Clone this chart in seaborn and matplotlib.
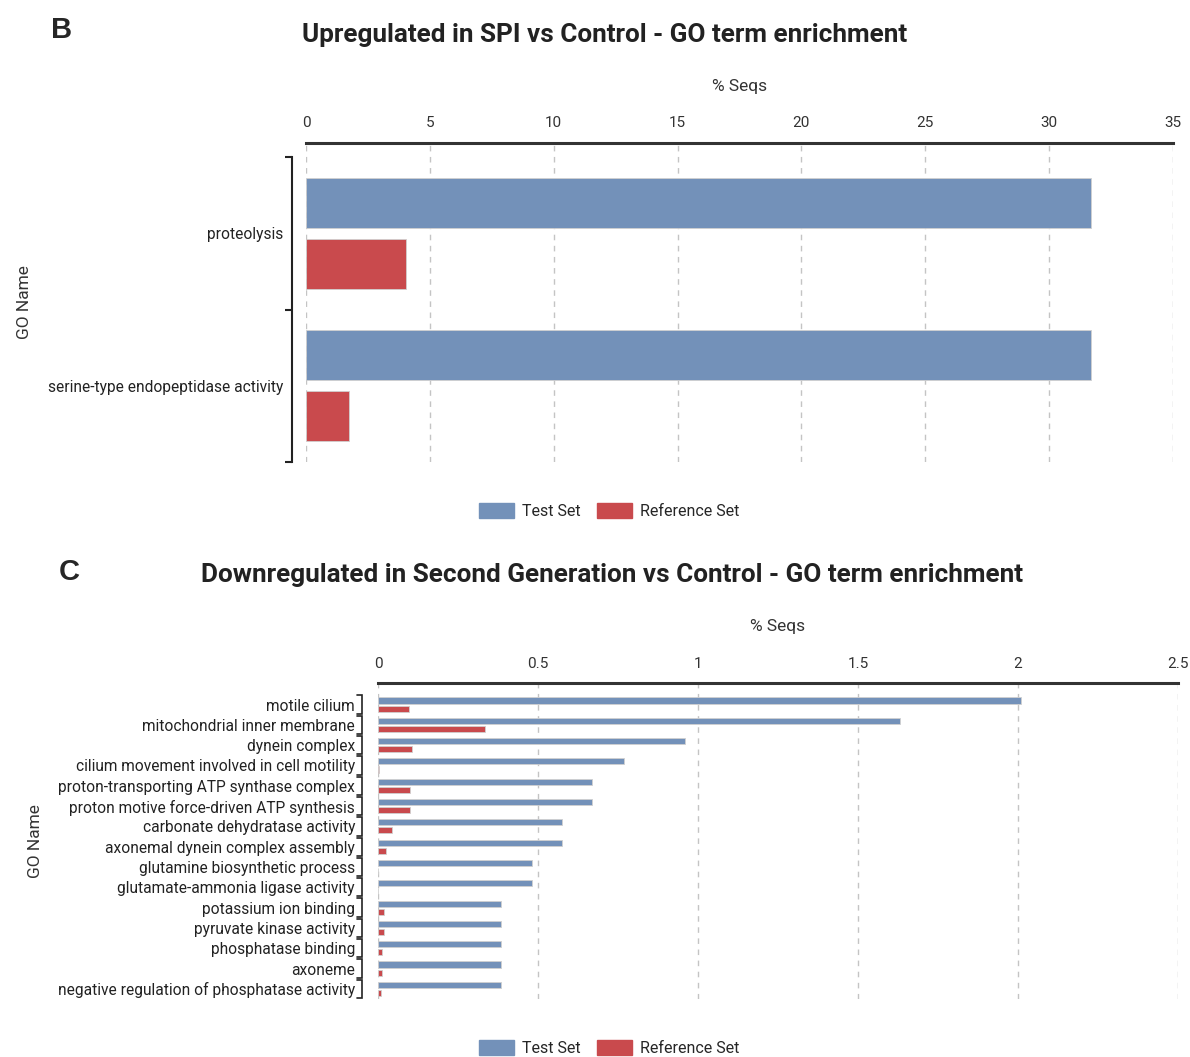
import numpy as np
import pandas as pd
import matplotlib
matplotlib.use("Agg")
import matplotlib.pyplot as plt
import seaborn as sns
from matplotlib.patches import Patch

# Panel B - Upregulated in SPI vs Control
go_b = ["proteolysis", "serine-type endopeptidase activity"]
test_b = [31.7, 31.7]
ref_b = [4.05, 1.75]
xticks_b = [0, 5, 10, 15, 20, 25, 30, 35]

# Panel C - Downregulated in Second Generation vs Control
go_c = [
    "motile cilium",
    "mitochondrial inner membrane",
    "dynein complex",
    "cilium movement involved in cell motility",
    "proton-transporting ATP synthase complex",
    "proton motive force-driven ATP synthesis",
    "carbonate dehydratase activity",
    "axonemal dynein complex assembly",
    "glutamine biosynthetic process",
    "glutamate-ammonia ligase activity",
    "potassium ion binding",
    "pyruvate kinase activity",
    "phosphatase binding",
    "axoneme",
    "negative regulation of phosphatase activity",
]
test_c = [2.01, 1.63, 0.96, 0.77, 0.67, 0.67, 0.575, 0.575, 0.48, 0.48,
          0.385, 0.385, 0.385, 0.385, 0.385]
ref_c = [0.097, 0.334, 0.106, 0.003, 0.1, 0.1, 0.044, 0.025, 0.001, 0.001,
         0.019, 0.019, 0.013, 0.012, 0.009]
xticks_c = [0, 0.5, 1, 1.5, 2, 2.5]

BLUE = "#7391b9"
RED = "#c94a4d"

sns.set_theme(style="white")
plt.rcParams["font.family"] = ["Roboto", "DejaVu Sans"]


def tabela(nazwy, test, ref):
    """Long table for seaborn with hue."""
    return pd.DataFrame({
        "GO Name": nazwy + nazwy,
        "% Seqs": test + ref,
        "Set": ["Test Set"] * len(nazwy) + ["Reference Set"] * len(nazwy),
    })


def rysuj_panel(ax, nazwy, test, ref, ticks, top_lim, gap, offset, ypad):
    df = tabela(nazwy, test, ref)
    sns.barplot(data=df, x="% Seqs", y="GO Name", hue="Set", orient="h",
                palette=[BLUE, RED], saturation=1, width=0.8, gap=gap, ax=ax,
                legend=False, edgecolor="#d0d0d0", linewidth=0.6)
    n = len(nazwy)
    ax.set_xlim(0, ticks[-1])
    ax.set_xticks(ticks)
    ax.set_xticklabels([f"{t:g}" for t in ticks])
    ax.xaxis.tick_top()
    ax.xaxis.set_label_position("top")
    ax.set_xlabel("% Seqs", fontsize=12.5, labelpad=18, color="#333333")
    ax.set_ylabel("GO Name", fontsize=12.5, labelpad=11, color="#333333")
    ax.set_ylim(n - 0.5, top_lim)
    ax.tick_params(axis="x", length=0, pad=9, labelsize=11, labelcolor="#333333")
    ax.tick_params(axis="y", which="major", length=0, pad=ypad, labelsize=11.2,
                   labelcolor="#222222")
    for s in ["right", "bottom"]:
        ax.spines[s].set_visible(False)
    ax.spines["top"].set_linewidth(2.2)
    ax.spines["top"].set_color("#333333")
    ax.spines["left"].set_position(("outward", offset))
    ax.spines["left"].set_bounds(-0.5, n - 0.5)
    ax.spines["left"].set_linewidth(1.5)
    ax.spines["left"].set_color("#222222")
    ax.grid(axis="x", linestyle=(0, (4, 4)), color="#c4c4c4", linewidth=1)
    ax.set_axisbelow(True)


fig = plt.figure(figsize=(11.9, 10.57), dpi=100)

# panel B: jeden ciagly nawias z kreskami na granicach kategorii
ax_b = fig.add_axes([306 / 1190, 1 - 462 / 1057, 867 / 1190, 319 / 1057])
rysuj_panel(ax_b, go_b, test_b, ref_b, xticks_b, -0.592, 0.18, 10, 6.5)
ax_b.set_yticks(np.arange(-0.5, len(go_b)), minor=True)
ax_b.tick_params(axis="y", which="minor", length=5, width=1.5, direction="out",
                 color="#222222", left=True)

# panel C: osobny nawias "]" dla kazdej kategorii
ax_c = fig.add_axes([378 / 1190, 1 - 999 / 1057, 800 / 1190, 316 / 1057])
rysuj_panel(ax_c, go_c, test_c, ref_c, xticks_c, -1.06, 0.25, 11.5, 5)
ax_c.spines["left"].set_visible(False)
tr = ax_c.get_yaxis_transform()
x_in, x_out = -16 / 800, -21 / 800
for i in range(len(go_c)):
    ax_c.plot([x_out, x_in, x_in, x_out], [i - 0.45, i - 0.45, i + 0.45, i + 0.45],
              transform=tr, color="#222222", lw=1.2, clip_on=False,
              solid_joinstyle="miter")

# tytuly i litery paneli
fig.text(0.508, 1 - 35 / 1057, "Upregulated in SPI vs Control - GO term enrichment",
         ha="center", va="center", fontsize=18.8, fontweight="bold", color="#222222")
fig.text(0.514, 1 - 575 / 1057,
         "Downregulated in Second Generation vs Control - GO term enrichment",
         ha="center", va="center", fontsize=18.8, fontweight="bold", color="#222222")
fig.text(62 / 1190, 1 - 30 / 1057, "B", ha="center", va="center", fontsize=21,
         fontweight="bold", family=["Liberation Sans", "DejaVu Sans"])
fig.text(69 / 1190, 1 - 572 / 1057, "C", ha="center", va="center", fontsize=21,
         fontweight="bold", family=["Liberation Sans", "DejaVu Sans"])

# legendy
uchwyty = [Patch(facecolor=BLUE, edgecolor=BLUE, label="Test Set"),
           Patch(facecolor=RED, edgecolor=RED, label="Reference Set")]
for y in [1 - 511 / 1057, 1 - 1048 / 1057]:
    fig.legend(handles=uchwyty, loc="center", bbox_to_anchor=(0.512, y), ncol=2,
               frameon=False, fontsize=11.5, handlelength=2.2, handleheight=1.1,
               columnspacing=1.0, handletextpad=0.5)

fig.savefig("out.png", dpi=100)
